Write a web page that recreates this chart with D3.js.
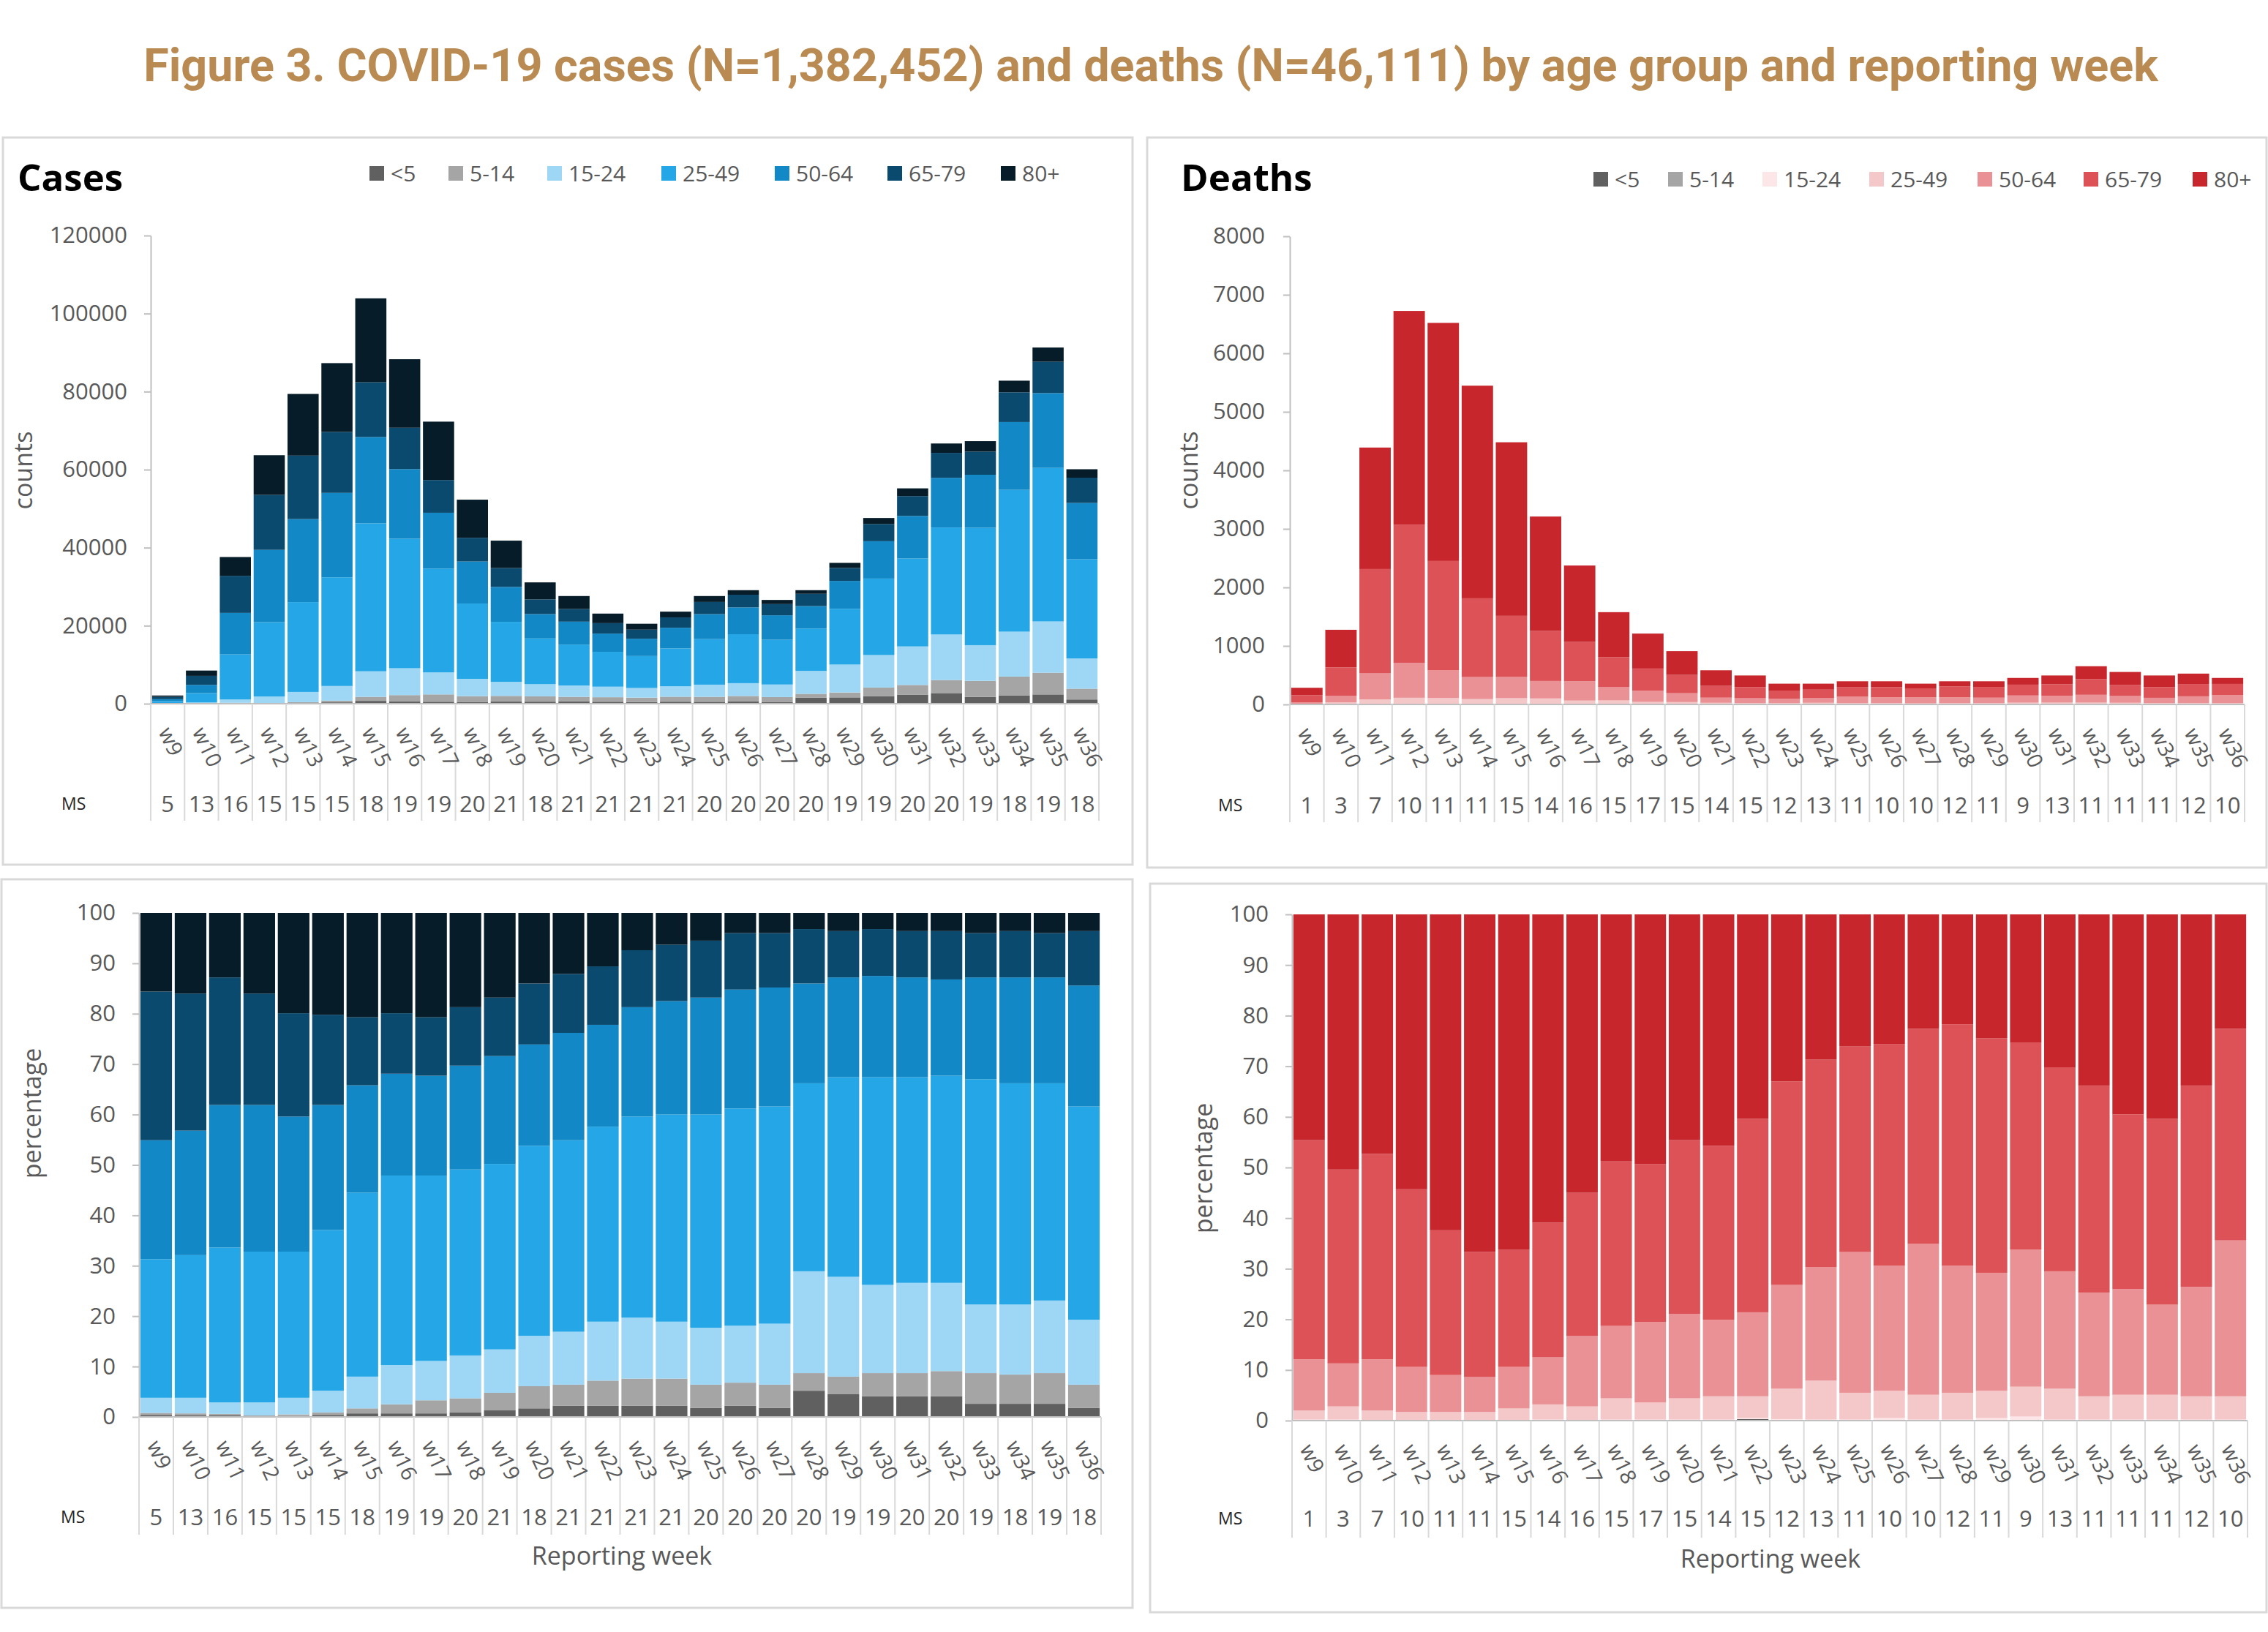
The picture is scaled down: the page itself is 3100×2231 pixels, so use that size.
<!DOCTYPE html>
<meta charset="utf-8">
<style>
	body { margin: 0; background: #fff; }
	svg text { font-family: "Open Sans", sans-serif; fill: #595959; }
</style>
<svg width="3100" height="2231"></svg>
<script src="https://d3js.org/d3.v7.min.js"></script>
<script>
	var weeks = ['w9', 'w10', 'w11', 'w12', 'w13', 'w14', 'w15', 'w16', 'w17', 'w18', 'w19', 'w20', 'w21', 'w22',
		'w23', 'w24', 'w25', 'w26', 'w27', 'w28', 'w29', 'w30', 'w31', 'w32', 'w33', 'w34', 'w35', 'w36']
	var ages = ['<5', '5-14', '15-24', '25-49', '50-64', '65-79', '80+']

	// number of reporting member states per week
	var casesMS = [5, 13, 16, 15, 15, 15, 18, 19, 19, 20, 21, 18, 21, 21, 21, 21, 20, 20, 20, 20, 19, 19, 20, 20, 19, 18, 19, 18]
	var deathsMS = [1, 3, 7, 10, 11, 11, 15, 14, 16, 15, 17, 15, 14, 15, 12, 13, 11, 10, 10, 12, 11, 9, 13, 11, 11, 11, 12, 10]

	// weekly totals (counts)
	var casesTotal = [2100, 8500, 37600, 63700, 79400, 87300, 103900, 88300, 72300, 52300, 41800, 31100, 27600, 23100,
		20500, 23600, 27600, 29100, 26600, 29100, 36100, 47600, 55200, 66700, 67300, 82800, 91300, 60100]
	var deathsTotal = [285, 1276, 4390, 6724, 6520, 5447, 4480, 3211, 2374, 1577, 1211, 911, 584, 495,
		355, 355, 396, 396, 355, 396, 396, 453, 495, 653, 555, 495, 527, 453]

	// share of each age group per week (%), rows follow ages
	var casesPct = [
		[0.4, 0.3, 0.3, 0.1, 0.2, 0.4, 0.7, 0.7, 0.7, 0.9, 1.3, 1.7, 2.2, 2.2, 2.2, 2.2, 1.8, 2.2, 1.8, 5.2, 4.5, 4.1, 4.1, 4.1, 2.6, 2.6, 2.6, 1.8],
		[0.4, 0.4, 0.3, 0.2, 0.3, 0.5, 1.0, 1.8, 2.6, 2.8, 3.5, 4.4, 4.2, 5.0, 5.4, 5.4, 4.6, 4.6, 4.6, 3.5, 3.5, 4.6, 4.6, 5.0, 6.1, 5.8, 6.1, 4.6],
		[3.0, 3.1, 2.3, 2.6, 3.3, 4.3, 6.3, 7.8, 7.8, 8.5, 8.6, 10.0, 10.5, 11.7, 12.1, 11.3, 11.3, 11.3, 12.1, 20.2, 19.8, 17.5, 17.9, 17.5, 13.6, 13.9, 14.4, 12.9],
		[27.5, 28.3, 30.7, 29.9, 29.0, 31.9, 36.5, 37.6, 36.8, 36.9, 36.8, 37.7, 38.0, 38.7, 39.9, 41.1, 42.3, 43.1, 43.1, 37.3, 39.6, 41.2, 40.8, 41.1, 44.7, 43.9, 43.1, 42.3],
		[23.6, 24.7, 28.3, 29.1, 26.8, 24.8, 21.3, 20.2, 19.8, 20.6, 21.4, 20.1, 21.3, 20.2, 21.7, 22.5, 23.2, 23.6, 23.6, 19.8, 19.8, 20.1, 19.8, 19.1, 20.2, 21.0, 21.0, 24.0],
		[29.5, 27.2, 25.3, 22.1, 20.5, 17.9, 13.5, 12.0, 11.6, 11.6, 11.6, 12.1, 11.7, 11.6, 11.3, 11.2, 11.3, 11.2, 10.8, 10.8, 9.2, 9.3, 9.2, 9.6, 8.8, 9.2, 8.8, 10.8],
		[15.6, 16.0, 12.8, 16.0, 19.9, 20.2, 20.7, 19.9, 20.7, 18.7, 16.8, 14.0, 12.1, 10.6, 7.4, 6.3, 5.5, 4.0, 4.0, 3.2, 3.6, 3.2, 3.6, 3.6, 4.0, 3.6, 4.0, 3.6]
	]
	var deathsPct = [
		[0, 0, 0, 0, 0, 0, 0, 0, 0, 0, 0, 0, 0, 0.3, 0, 0, 0, 0, 0, 0, 0, 0, 0, 0, 0, 0, 0, 0],
		[0, 0, 0, 0, 0, 0, 0, 0, 0, 0, 0, 0, 0, 0, 0, 0, 0, 0, 0, 0, 0, 0, 0, 0, 0, 0, 0, 0],
		[0.2, 0.2, 0.1, 0.1, 0.1, 0.1, 0.1, 0.2, 0.1, 0.2, 0.2, 0.2, 0.2, 0.2, 0.3, 0.2, 0.2, 0.5, 0.2, 0.2, 0.5, 0.8, 0.2, 0.2, 0.2, 0.2, 0.2, 0.2],
		[1.8, 2.6, 1.9, 1.6, 1.6, 1.6, 2.3, 3.0, 2.7, 4.2, 3.4, 4.2, 4.6, 4.3, 6.0, 7.7, 5.3, 5.4, 4.9, 5.3, 5.4, 5.9, 6.1, 4.6, 4.9, 4.9, 4.6, 4.6],
		[10.1, 8.5, 10.1, 8.9, 7.3, 6.9, 8.2, 9.3, 13.9, 14.3, 15.9, 16.7, 15.1, 16.6, 20.5, 22.4, 27.8, 24.7, 29.8, 25.1, 23.3, 27.1, 23.2, 20.5, 20.9, 17.8, 21.6, 30.8],
		[43.3, 38.3, 40.6, 35.1, 28.6, 24.7, 23.2, 26.6, 28.3, 32.5, 31.2, 34.3, 34.4, 38.2, 40.2, 41.0, 40.6, 43.8, 42.5, 47.7, 46.3, 40.9, 40.3, 40.9, 34.5, 36.7, 39.8, 41.8],
		[44.6, 50.4, 47.3, 54.3, 62.4, 66.7, 66.2, 60.9, 55.0, 48.8, 49.3, 44.6, 45.7, 40.4, 33.0, 28.7, 26.1, 25.6, 22.6, 21.7, 24.5, 25.3, 30.2, 33.8, 39.5, 40.4, 33.8, 22.6]
	]

	var casesTicks = [0, 20000, 40000, 60000, 80000, 100000, 120000]
	var deathsTicks = [0, 1000, 2000, 3000, 4000, 5000, 6000, 7000, 8000]
	var pctTicks = [0, 10, 20, 30, 40, 50, 60, 70, 80, 90, 100]

	var blues = ['#606060', '#a5a5a5', '#9dd7f5', '#25a7e7', '#1289c6', '#0b4a6f', '#061c29']
	var reds = ['#606060', '#a5a5a5', '#fce6e7', '#f4c7c9', '#e99194', '#dc5257', '#c6262c']

	var svg = d3.select('svg')

	// main title, sized to the reference width
	var title = svg.append('text')
		.attr('x', 1573)
		.attr('y', 111)
		.attr('text-anchor', 'middle')
		.style('font-family', 'Roboto')
		.style('font-weight', 700)
		.style('font-size', '62px')
		.style('fill', '#b98b52')
		.text('Figure 3. COVID-19 cases (N=1,382,452) and deaths (N=46,111) by age group and reporting week')
	var tw = title.node().getComputedTextLength()
	title.style('font-size', (62 * 2754 / tw) + 'px')

	function panel(o) {
		var g = svg.append('g')

		g.append('rect')
			.attr('x', o.box[0]).attr('y', o.box[1])
			.attr('width', o.box[2] - o.box[0]).attr('height', o.box[3] - o.box[1])
			.attr('fill', 'none').attr('stroke', '#d9d9d9').attr('stroke-width', 3)

		var x = d3.scaleBand().domain(weeks).range([o.x0, o.x1]).paddingInner(0.08).paddingOuter(0.04)
		var y = d3.scaleLinear().domain([0, o.pct ? 1 : d3.max(o.ticks)]).range([o.yb, o.yt])

		var table = weeks.map(function (w, i) {
			var row = { week: w }
			ages.forEach(function (a, j) {
				row[a] = o.pct ? o.share[j][i] : o.total[i] * o.share[j][i] / 100
			})
			return row
		})
		var stack = d3.stack().keys(ages)
		if (o.pct) stack.offset(d3.stackOffsetExpand)

		g.append('g')
			.selectAll('g')
			.data(stack(table))
			.join('g')
			.attr('fill', function (d, i) { return o.colors[i] })
			.selectAll('rect')
			.data(function (d) { return d })
			.join('rect')
			.attr('x', function (d) { return x(d.data.week) })
			.attr('width', x.bandwidth())
			.attr('y', function (d) { return y(d[1]) })
			.attr('height', function (d) { return Math.max(0, y(d[0]) - y(d[1])) })

		var yAxis = d3.axisLeft(y)
			.tickValues(o.pct ? o.ticks.map(function (v) { return v / 100 }) : o.ticks)
			.tickFormat(function (d) { return o.pct ? Math.round(d * 100) : d })
			.tickSizeInner(9).tickSizeOuter(0).tickPadding(o.pad)

		var ax = g.append('g')
			.attr('transform', 'translate(' + o.x0 + ',0)')
			.call(yAxis)
		ax.select('.domain').attr('stroke', '#bfbfbf').attr('stroke-width', 2)
		ax.selectAll('.tick line').attr('stroke', '#bfbfbf').attr('stroke-width', 2)
		ax.selectAll('.tick text').style('font-size', '31px').attr('fill', '#595959')

		// baseline and category separators
		g.append('line')
			.attr('x1', o.x0).attr('x2', o.x1).attr('y1', o.yb).attr('y2', o.yb)
			.attr('stroke', '#bfbfbf').attr('stroke-width', 2)
		g.append('g')
			.selectAll('line')
			.data(d3.range(weeks.length + 1))
			.join('line')
			.attr('x1', function (i) { return o.x0 + i * x.step() })
			.attr('x2', function (i) { return o.x0 + i * x.step() })
			.attr('y1', o.yb).attr('y2', o.sepEnd)
			.attr('stroke', '#d9d9d9').attr('stroke-width', 2)

		// rotated week labels
		g.append('g')
			.selectAll('text')
			.data(weeks)
			.join('text')
			.attr('transform', function (d) {
				return 'translate(' + (x(d) + x.bandwidth() / 2 - 4) + ',' + (o.yb + 34) + ') rotate(65)'
			})
			.attr('dy', '0.35em')
			.style('font-size', '29px')
			.text(function (d) { return d })

		// member states row
		g.append('text')
			.attr('x', o.msX).attr('y', o.msY + 8)
			.style('font-size', '23px').style('fill', '#262626')
			.text('MS')
		g.append('g')
			.selectAll('text')
			.data(o.ms)
			.join('text')
			.attr('x', function (d, i) { return x(weeks[i]) + x.bandwidth() / 2 })
			.attr('y', o.msY + 11)
			.attr('text-anchor', 'middle')
			.style('font-size', '31px')
			.text(function (d) { return d })

		g.append('text')
			.attr('transform', 'translate(' + o.yLab[0] + ',' + o.yLab[1] + ') rotate(-90)')
			.attr('text-anchor', 'middle')
			.attr('dy', '0.35em')
			.style('font-size', '34px')
			.text(o.pct ? 'percentage' : 'counts')

		if (o.xLab) {
			g.append('text')
				.attr('x', o.xLab[0]).attr('y', o.xLab[1] + 12)
				.attr('text-anchor', 'middle')
				.style('font-size', '34px')
				.text('Reporting week')
		}

		if (o.name) {
			g.append('text')
				.attr('x', o.name[0]).attr('y', o.name[1])
				.style('font-size', '51px').style('font-weight', 700).style('fill', '#000')
				.text(o.name[2])

			var lg = g.append('g')
				.selectAll('g')
				.data(ages)
				.join('g')
				.attr('transform', function (d, i) { return 'translate(' + o.legendX[i] + ',' + o.legendY + ')' })
			lg.append('rect')
				.attr('y', -10).attr('width', 20).attr('height', 20)
				.attr('fill', function (d, i) { return o.colors[i] })
			lg.append('text')
				.attr('x', 29).attr('y', 11)
				.style('font-size', '30px')
				.text(function (d) { return d })
		}
	}

	panel({
		box: [4, 188, 1548, 1182], x0: 206, x1: 1502, yb: 962, yt: 322, pad: 23,
		total: casesTotal, share: casesPct, ticks: casesTicks, colors: blues, ms: casesMS,
		sepEnd: 1122, msX: 84, msY: 1099, yLab: [32, 643],
		name: [24, 261, 'Cases'], legendY: 237,
		legendX: [505, 613, 748, 904, 1059, 1213, 1368]
	})
	panel({
		box: [1568, 188, 3098, 1186], x0: 1763, x1: 3068, yb: 963, yt: 323, pad: 25,
		total: deathsTotal, share: deathsPct, ticks: deathsTicks, colors: reds, ms: deathsMS,
		sepEnd: 1124, msX: 1665, msY: 1101, yLab: [1625, 643],
		name: [1614, 261, 'Deaths'], legendY: 245,
		legendX: [2178, 2280, 2409, 2555, 2703, 2848, 2997]
	})
	panel({
		box: [2, 1202, 1548, 2198], x0: 190, x1: 1505, yb: 1937, yt: 1248, pad: 23, pct: true,
		share: casesPct, ticks: pctTicks, colors: blues, ms: casesMS,
		sepEnd: 2098, msX: 83, msY: 2074, yLab: [44, 1522], xLab: [850, 2127]
	})
	panel({
		box: [1572, 1208, 3098, 2204], x0: 1766, x1: 3072, yb: 1942, yt: 1250, pad: 23, pct: true,
		share: deathsPct, ticks: pctTicks, colors: reds, ms: deathsMS,
		sepEnd: 2102, msX: 1665, msY: 2076, yLab: [1645, 1597], xLab: [2420, 2131]
	})
</script>
